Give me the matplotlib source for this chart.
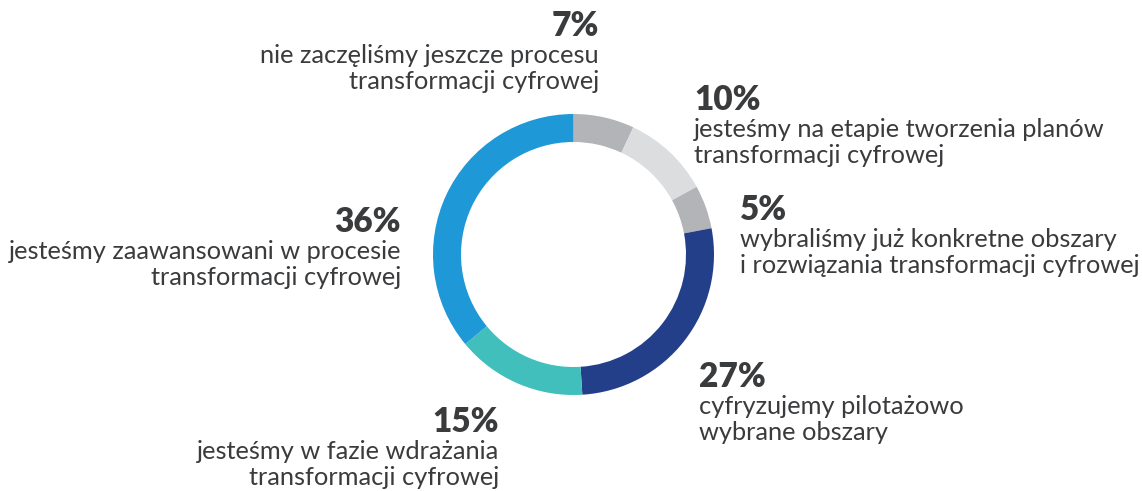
import matplotlib.pyplot as plt

plt.rcParams['font.family'] = ['Lato', 'DejaVu Sans']

# shares, clockwise from 12 o'clock
values = [7, 10, 5, 27, 15, 36]
colors = ['#b3b4b7', '#dcdddf', '#b3b4b7', '#243f8a', '#40bfbc', '#1e98d6']
labels = [
  ["nie zaczęliśmy jeszcze procesu", "transformacji cyfrowej"],
  ["jesteśmy na etapie tworzenia planów", "transformacji cyfrowej"],
  ["wybraliśmy już konkretne obszary", "i rozwiązania transformacji cyfrowej"],
  ["cyfryzujemy pilotażowo", "wybrane obszary"],
  ["jesteśmy w fazie wdrażania", "transformacji cyfrowej"],
  ["jesteśmy zaawansowani w procesie", "transformacji cyfrowej"],
]

# anchor (x, baseline of percent, alignment) in pixels from top-left
anchors = [
  (599, 36, 'right'),
  (694, 110, 'left'),
  (740, 220, 'left'),
  (699, 387, 'left'),
  (499, 432, 'right'),
  (401, 232, 'right'),
]

W, H = 1142, 491
text_color = '#3a3b3d'

fig = plt.figure(figsize=(W / 100, H / 100), dpi=100)
ax = fig.add_axes([0, 0, 1, 1])
ax.set_xlim(0, W)
ax.set_ylim(0, H)
ax.set_aspect('equal')
ax.axis('off')

ax.pie(values, colors=colors, startangle=90, counterclock=False,
       center=(573.5, H - 254.5), radius=140.5,
       wedgeprops=dict(width=28, linewidth=0))

# restore limits changed by pie
ax.set_xlim(0, W)
ax.set_ylim(0, H)

for val, lines, (x, y, ha) in zip(values, labels, anchors):
  ax.text(x, H - y, f"{val}%", ha=ha, va='baseline', fontsize=24,
          fontweight='heavy', color=text_color)
  for i, line in enumerate(lines):
    ax.text(x, H - (y + 27 + 26 * i), line, ha=ha, va='baseline',
            fontsize=18.3, color=text_color)

fig.savefig('out.png', dpi=100)
